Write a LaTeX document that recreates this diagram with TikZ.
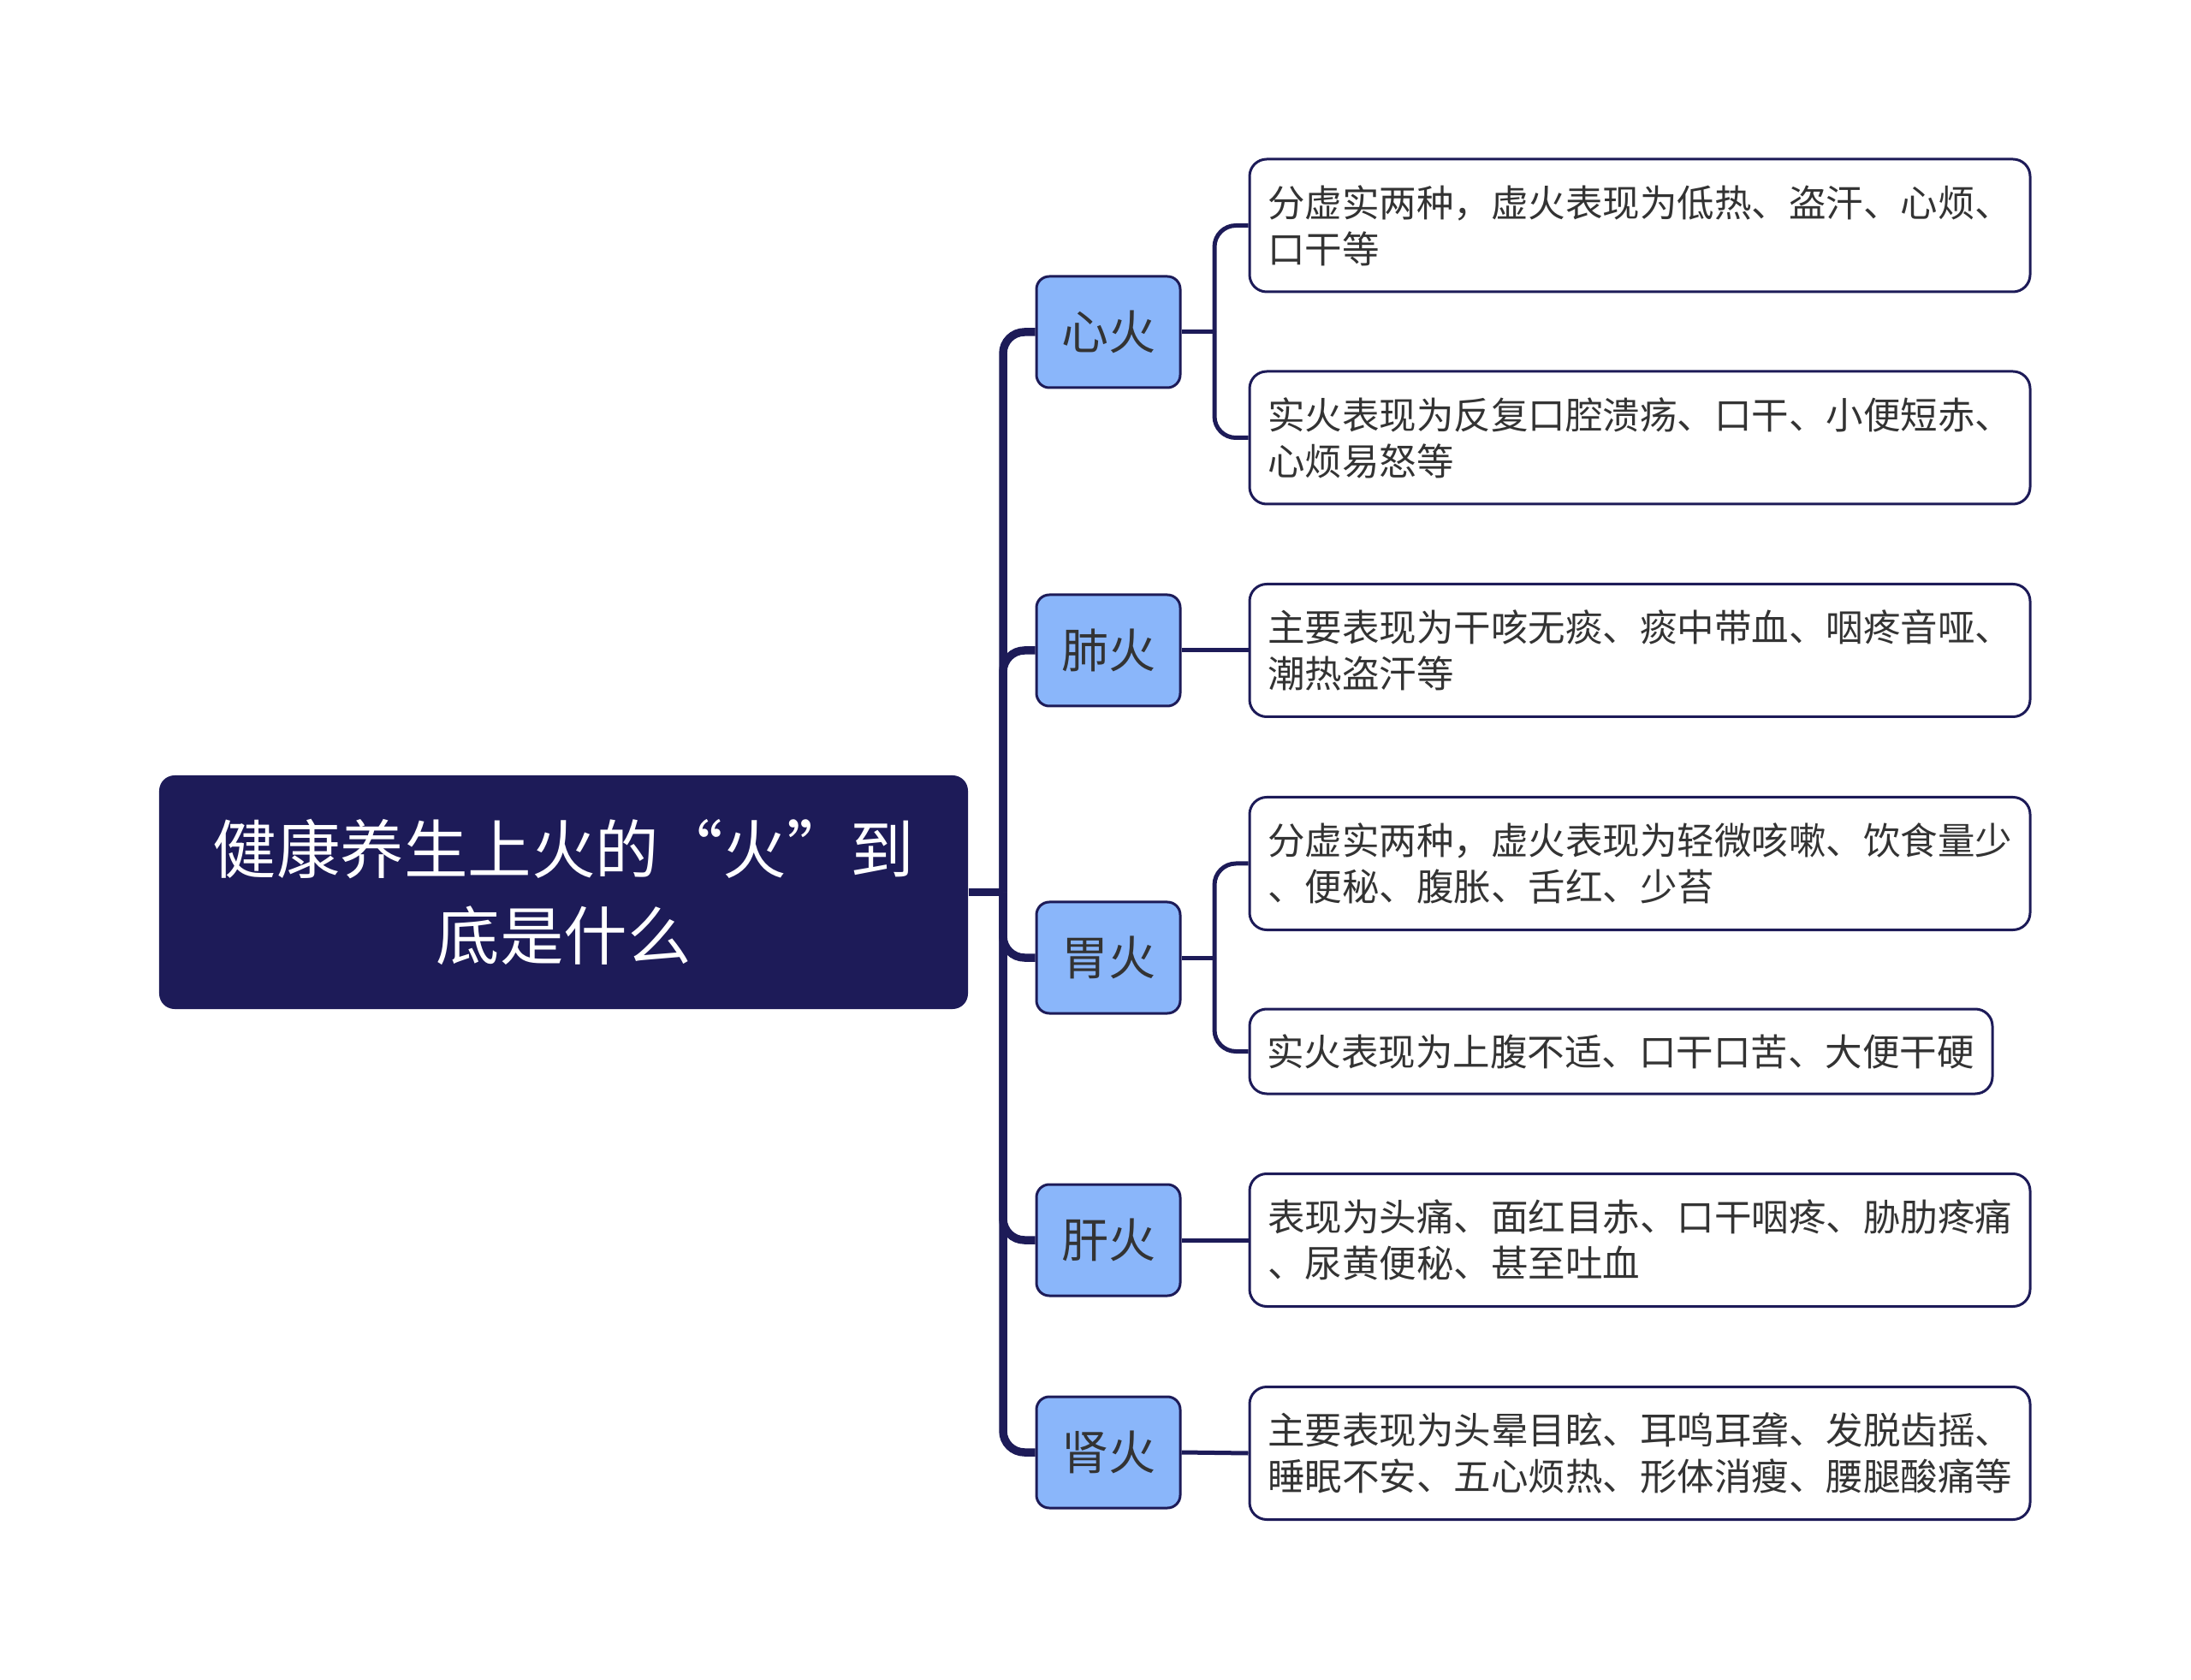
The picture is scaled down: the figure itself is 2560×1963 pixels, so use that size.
\documentclass[tikz,border=0pt]{standalone}
\usepackage{fontspec}
\setmainfont{Noto Sans CJK SC}
\definecolor{navy}{HTML}{1D1B58}
\definecolor{midblue}{HTML}{8AB6FA}
\definecolor{txt}{HTML}{333333}
\begin{document}
\begin{tikzpicture}[x=0.4pt,y=-0.4pt,
  rootbox/.style={rectangle, rounded corners=7.2pt, fill=navy, draw=none, text=white,
    minimum width=378pt, minimum height=109.2pt, align=center,
    font=\fontsize{29.8}{40.4}\selectfont},
  midbox/.style={rectangle, rounded corners=6pt, fill=midblue, draw=navy, line width=1.2pt,
    minimum width=67.2pt, minimum height=52pt, text=txt,
    font=\fontsize{22}{26}\selectfont},
  leafbox/.style={rectangle, rounded corners=8pt, fill=white, draw=navy, line width=1.2pt,
    minimum height=62pt, text width=348pt, inner xsep=8.4pt, align=left, text=txt,
    font=\fontsize{17.4}{21.6}\selectfont},
  spine/.style={draw=navy, line width=3.8pt, rounded corners=10pt},
  branch/.style={draw=navy, line width=2pt, rounded corners=10pt}]
\useasboundingbox (0,0) rectangle (2560,1963);
\node[rootbox] (root) at (658.5,1042.5) {健康养生上火的“火”到\\底是什么};
\node[midbox] (m1) at (1295,388) {心火};
\node[midbox] (m2) at (1295,760) {肺火};
\node[midbox] (m3) at (1295,1119) {胃火};
\node[midbox] (m4) at (1295,1449) {肝火};
\node[midbox] (m5) at (1295,1697) {肾火};
\node[leafbox] (l1) at (1916,263.5) {分虚实两种，虚火表现为低热、盗汗、心烦、\\口干等};
\node[leafbox] (l2) at (1916,511.5) {实火表现为反复口腔溃疡、口干、小便短赤、\\心烦易怒等};
\node[leafbox] (l3) at (1916,760) {主要表现为干咳无痰、痰中带血、咽疼音哑、\\潮热盗汗等};
\node[leafbox] (l4) at (1916,1009) {分虚实两种，虚火表现为轻微咳嗽、饮食量少\\、便秘、腹胀、舌红、少苔};
\node[leafbox, text width=331pt, inner xsep=8.1pt, minimum height=39.6pt] (l5) at (1894,1228.5) {实火表现为上腹不适、口干口苦、大便干硬};
\node[leafbox] (l6) at (1916,1449) {表现为头痛、面红目赤、口干咽疼、胁肋疼痛\\、尿黄便秘、甚至吐血};
\node[leafbox] (l7) at (1916,1698) {主要表现为头晕目眩、耳鸣耳聋、发脱齿摇、\\睡眠不安、五心烦热、形体消瘦、腰腿酸痛等};
\coordinate (j) at (1172,1042.5);
\coordinate (s1) at (1419,388);
\coordinate (s3) at (1419,1119);
\draw[spine] (root.east) -- (j);
\foreach \m in {m1,m2,m3,m4,m5} { \draw[spine] (j) |- (\m.west); }
\draw[branch] (m1.east) -- (s1);
\draw[branch] (s1) |- (l1.west);
\draw[branch] (s1) |- (l2.west);
\draw[branch] (m2.east) -- (l3.west);
\draw[branch] (m3.east) -- (s3);
\draw[branch] (s3) |- (l4.west);
\draw[branch] (s3) |- (l5.west);
\draw[branch] (m4.east) -- (l6.west);
\draw[branch] (m5.east) -- (l7.west);
\end{tikzpicture}
\end{document}
